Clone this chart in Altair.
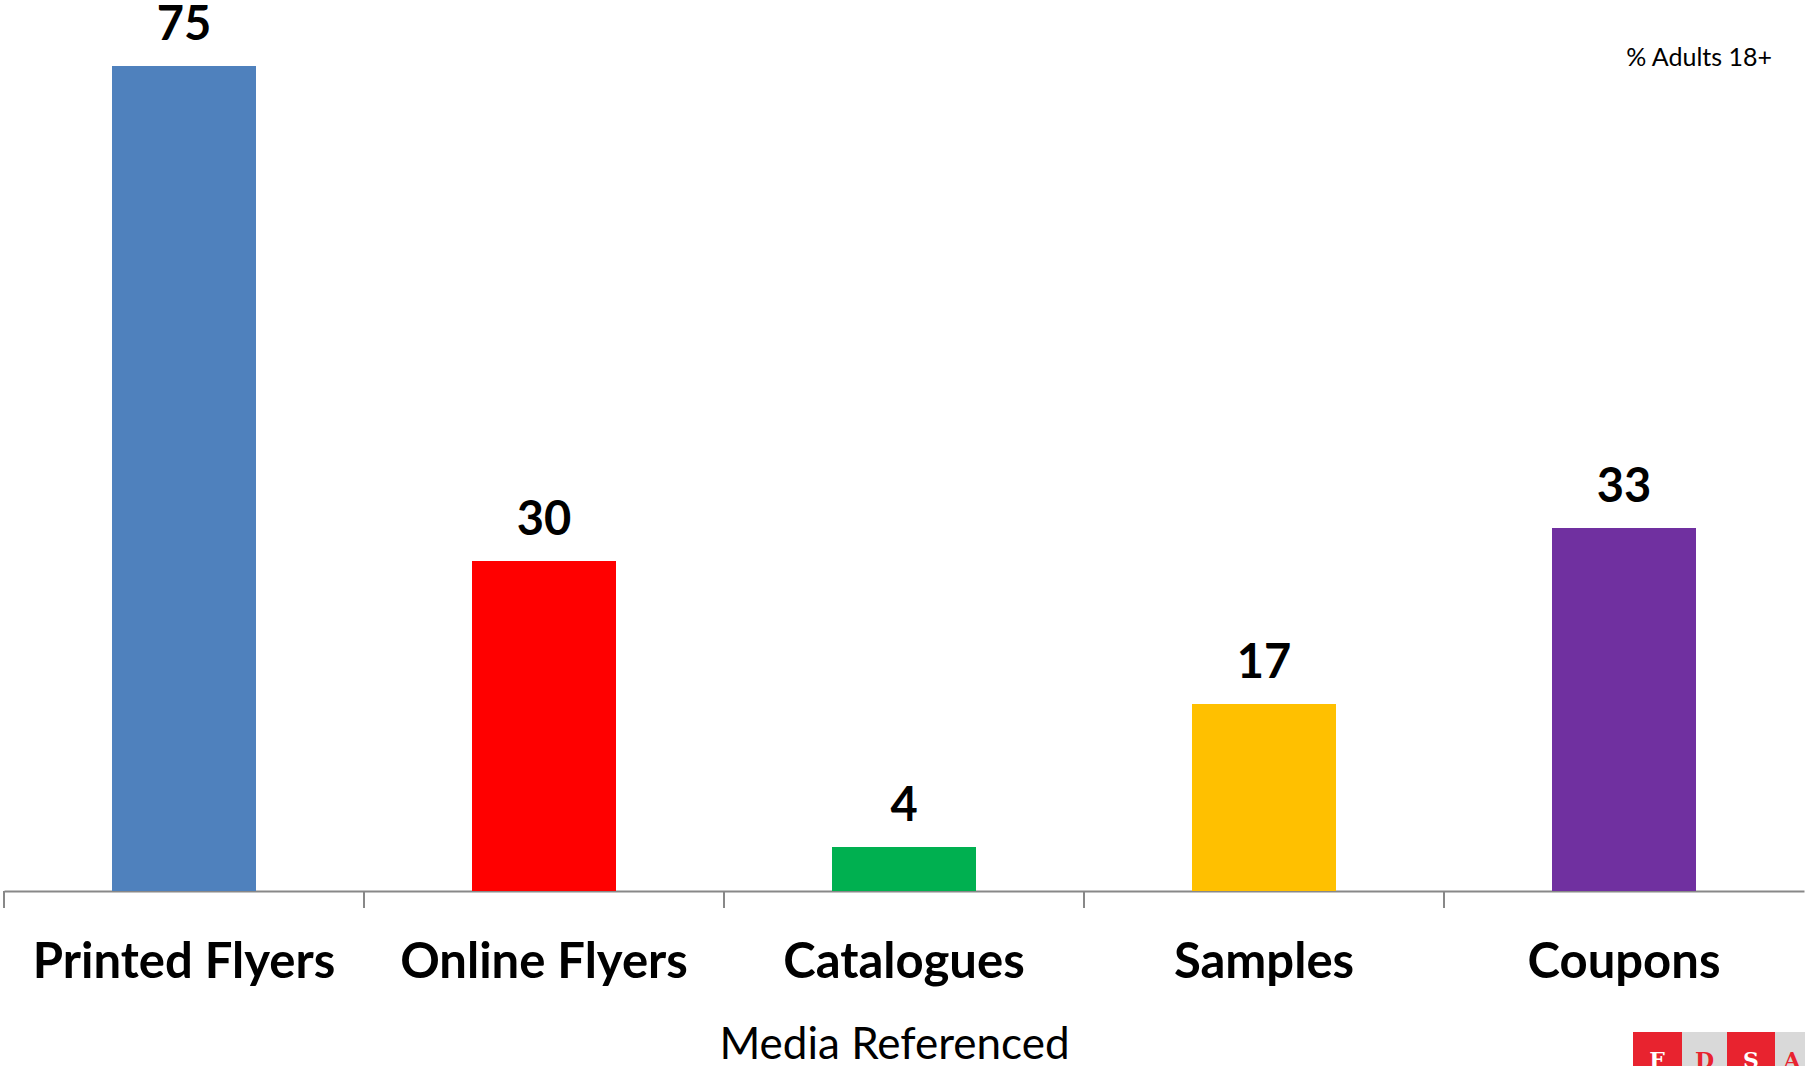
import altair as alt
import pandas as pd

# Share of adults 18+ who referenced each media type
media = ["Printed Flyers", "Online Flyers", "Catalogues", "Samples", "Coupons"]
pct = [75, 30, 4, 17, 33]
colors = ["#4F81BD", "#FF0000", "#00B050", "#FFC000", "#7030A0"]

# Corner logo blocks (letters and face colours)
logo_letters = ["F", "D", "S", "A"]
logo_face = ["#E8232F", "#D9D9D9", "#E8232F", "#D9D9D9"]
logo_ink = ["#FFFFFF", "#E8232F", "#FFFFFF", "#E8232F"]

df = pd.DataFrame({"media": media, "pct": pct, "color": colors})

FONT = "Lato"
W, H = 1800, 880

x_enc = alt.X(
    "media:N",
    sort=media,
    scale=alt.Scale(paddingInner=0, paddingOuter=0),
    axis=alt.Axis(
        title="Media Referenced",
        titleFont=FONT,
        titleFontSize=44,
        titleFontWeight="normal",
        titleColor="#000000",
        titleBaseline="alphabetic",
        titleY=167,
        titleX=890,
        labelFont=FONT,
        labelFontSize=49,
        labelFontWeight="bold",
        labelColor="#000000",
        labelBaseline="alphabetic",
        labelPadding=86,
        labelAngle=0,
        labelLimit=0,
        ticks=False,
        domainColor="#888888",
        domainWidth=2,
        grid=False,
    ),
)
y_enc = alt.Y("pct:Q", scale=alt.Scale(domain=[0, 80], nice=False), axis=None)

bars = alt.Chart(df).mark_bar(width=alt.RelativeBandSize(0.4)).encode(
    x=x_enc,
    y=y_enc,
    color=alt.Color("color:N", scale=None),
)

values = alt.Chart(df).mark_text(
    font=FONT, fontSize=47, fontWeight="bold", color="#000000",
    baseline="alphabetic", dy=-26,
).encode(x=alt.X("media:N", sort=media), y="pct:Q", text="pct:Q")

# tick marks at the category boundaries
ticks = alt.Chart(df).mark_rule(color="#888888", strokeWidth=2).encode(
    x=alt.X("media:N", sort=media, bandPosition=0),
    y=alt.value(H),
    y2=alt.value(H + 17),
)

note = alt.Chart(pd.DataFrame({"t": ["% Adults 18+"]})).mark_text(
    font=FONT, fontSize=25, color="#000000", align="right", baseline="alphabetic",
).encode(x=alt.value(1768), y=alt.value(55), text="t:N")

# logo in the lower-right corner, partly running off the page
logo_blocks = []
logo_left = [1629, 1678, 1723, 1771]
logo_right = [1678, 1723, 1771, 1805]
for i in range(4):
    logo_blocks.append(
        alt.Chart(pd.DataFrame({"k": [i]})).mark_rect(color=logo_face[i]).encode(
            x=alt.value(logo_left[i]), x2=alt.value(logo_right[i]),
            y=alt.value(1021), y2=alt.value(1060),
        )
    )
    logo_blocks.append(
        alt.Chart(pd.DataFrame({"t": [logo_letters[i]]})).mark_text(
            font="DejaVu Serif", fontSize=22, fontWeight="bold",
            color=logo_ink[i], baseline="alphabetic", align="center",
        ).encode(
            x=alt.value((logo_left[i] + min(logo_right[i], logo_left[i] + 48)) / 2),
            y=alt.value(1057), text="t:N",
        )
    )

chart = alt.layer(bars, values, ticks, note, *logo_blocks).properties(
    width=W,
    height=H,
    autosize=alt.AutoSizeParams(type="none"),
    padding={"left": 4, "top": 11, "right": 1, "bottom": 175},
).configure(background="#FFFFFF").configure_view(stroke=None, strokeWidth=0)

chart.save("out.html", embed_options={"renderer": "svg", "actions": False})
